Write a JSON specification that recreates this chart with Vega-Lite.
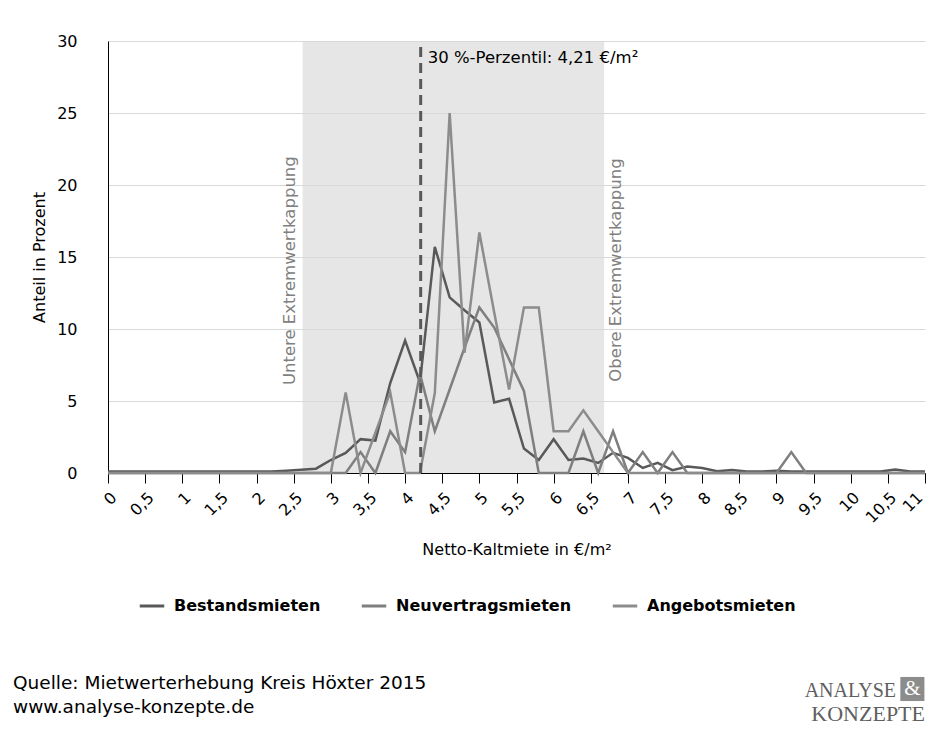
{
  "$schema": "https://vega.github.io/schema/vega-lite/v6.json",
  "autosize": {"type": "none"},
  "width": 817,
  "height": 432,
  "padding": {"left": 108, "top": 41, "right": 5, "bottom": 256},
  "background": "white",
  "config": {"font": "DejaVu Sans", "view": {"stroke": null}},
  "datasets": {
    "verteilung": [
      {"preis": 0.0, "Bestandsmieten": 0.1, "Neuvertragsmieten": 0, "Angebotsmieten": 0},
      {"preis": 0.2, "Bestandsmieten": 0.1, "Neuvertragsmieten": 0, "Angebotsmieten": 0},
      {"preis": 0.4, "Bestandsmieten": 0.1, "Neuvertragsmieten": 0, "Angebotsmieten": 0},
      {"preis": 0.6, "Bestandsmieten": 0.1, "Neuvertragsmieten": 0, "Angebotsmieten": 0},
      {"preis": 0.8, "Bestandsmieten": 0.1, "Neuvertragsmieten": 0, "Angebotsmieten": 0},
      {"preis": 1.0, "Bestandsmieten": 0.1, "Neuvertragsmieten": 0, "Angebotsmieten": 0},
      {"preis": 1.2, "Bestandsmieten": 0.1, "Neuvertragsmieten": 0, "Angebotsmieten": 0},
      {"preis": 1.4, "Bestandsmieten": 0.1, "Neuvertragsmieten": 0, "Angebotsmieten": 0},
      {"preis": 1.6, "Bestandsmieten": 0.1, "Neuvertragsmieten": 0, "Angebotsmieten": 0},
      {"preis": 1.8, "Bestandsmieten": 0.1, "Neuvertragsmieten": 0, "Angebotsmieten": 0},
      {"preis": 2.0, "Bestandsmieten": 0.1, "Neuvertragsmieten": 0, "Angebotsmieten": 0},
      {"preis": 2.2, "Bestandsmieten": 0.1, "Neuvertragsmieten": 0, "Angebotsmieten": 0},
      {"preis": 2.4, "Bestandsmieten": 0.15, "Neuvertragsmieten": 0, "Angebotsmieten": 0},
      {"preis": 2.6, "Bestandsmieten": 0.22, "Neuvertragsmieten": 0, "Angebotsmieten": 0},
      {"preis": 2.8, "Bestandsmieten": 0.3, "Neuvertragsmieten": 0, "Angebotsmieten": 0},
      {"preis": 3.0, "Bestandsmieten": 0.9, "Neuvertragsmieten": 0, "Angebotsmieten": 0},
      {"preis": 3.2, "Bestandsmieten": 1.4, "Neuvertragsmieten": 0, "Angebotsmieten": 5.6},
      {"preis": 3.4, "Bestandsmieten": 2.35, "Neuvertragsmieten": 1.45, "Angebotsmieten": 0},
      {"preis": 3.6, "Bestandsmieten": 2.25, "Neuvertragsmieten": 0, "Angebotsmieten": 2.8},
      {"preis": 3.8, "Bestandsmieten": 6.25, "Neuvertragsmieten": 2.9, "Angebotsmieten": 5.6},
      {"preis": 4.0, "Bestandsmieten": 9.2, "Neuvertragsmieten": 1.45, "Angebotsmieten": 0},
      {"preis": 4.2, "Bestandsmieten": 6.3, "Neuvertragsmieten": 6.9, "Angebotsmieten": 0},
      {"preis": 4.4, "Bestandsmieten": 15.7, "Neuvertragsmieten": 2.9, "Angebotsmieten": 5.55},
      {"preis": 4.6, "Bestandsmieten": 12.2, "Neuvertragsmieten": 5.8, "Angebotsmieten": 25.0},
      {"preis": 4.8, "Bestandsmieten": 11.3, "Neuvertragsmieten": 8.7, "Angebotsmieten": 8.35},
      {"preis": 5.0, "Bestandsmieten": 10.45, "Neuvertragsmieten": 11.5, "Angebotsmieten": 16.7},
      {"preis": 5.2, "Bestandsmieten": 4.9, "Neuvertragsmieten": 10.1, "Angebotsmieten": 11.15},
      {"preis": 5.4, "Bestandsmieten": 5.15, "Neuvertragsmieten": 7.9, "Angebotsmieten": 5.8},
      {"preis": 5.6, "Bestandsmieten": 1.7, "Neuvertragsmieten": 5.7, "Angebotsmieten": 11.5},
      {"preis": 5.8, "Bestandsmieten": 0.9, "Neuvertragsmieten": 0, "Angebotsmieten": 11.5},
      {"preis": 6.0, "Bestandsmieten": 2.35, "Neuvertragsmieten": 0, "Angebotsmieten": 2.9},
      {"preis": 6.2, "Bestandsmieten": 0.9, "Neuvertragsmieten": 0, "Angebotsmieten": 2.9},
      {"preis": 6.4, "Bestandsmieten": 1.0, "Neuvertragsmieten": 2.9, "Angebotsmieten": 4.35},
      {"preis": 6.6, "Bestandsmieten": 0.7, "Neuvertragsmieten": 0, "Angebotsmieten": 2.9},
      {"preis": 6.8, "Bestandsmieten": 1.4, "Neuvertragsmieten": 2.9, "Angebotsmieten": 1.45},
      {"preis": 7.0, "Bestandsmieten": 1.05, "Neuvertragsmieten": 0, "Angebotsmieten": 0},
      {"preis": 7.2, "Bestandsmieten": 0.35, "Neuvertragsmieten": 1.45, "Angebotsmieten": 0},
      {"preis": 7.4, "Bestandsmieten": 0.7, "Neuvertragsmieten": 0, "Angebotsmieten": 0},
      {"preis": 7.6, "Bestandsmieten": 0.2, "Neuvertragsmieten": 1.45, "Angebotsmieten": 0},
      {"preis": 7.8, "Bestandsmieten": 0.45, "Neuvertragsmieten": 0, "Angebotsmieten": 0},
      {"preis": 8.0, "Bestandsmieten": 0.35, "Neuvertragsmieten": 0, "Angebotsmieten": 0},
      {"preis": 8.2, "Bestandsmieten": 0.12, "Neuvertragsmieten": 0, "Angebotsmieten": 0},
      {"preis": 8.4, "Bestandsmieten": 0.2, "Neuvertragsmieten": 0, "Angebotsmieten": 0},
      {"preis": 8.6, "Bestandsmieten": 0.1, "Neuvertragsmieten": 0, "Angebotsmieten": 0},
      {"preis": 8.8, "Bestandsmieten": 0.1, "Neuvertragsmieten": 0, "Angebotsmieten": 0},
      {"preis": 9.0, "Bestandsmieten": 0.15, "Neuvertragsmieten": 0, "Angebotsmieten": 0},
      {"preis": 9.2, "Bestandsmieten": 0.1, "Neuvertragsmieten": 1.45, "Angebotsmieten": 0},
      {"preis": 9.4, "Bestandsmieten": 0.1, "Neuvertragsmieten": 0, "Angebotsmieten": 0},
      {"preis": 9.6, "Bestandsmieten": 0.1, "Neuvertragsmieten": 0, "Angebotsmieten": 0},
      {"preis": 9.8, "Bestandsmieten": 0.1, "Neuvertragsmieten": 0, "Angebotsmieten": 0},
      {"preis": 10.0, "Bestandsmieten": 0.1, "Neuvertragsmieten": 0, "Angebotsmieten": 0},
      {"preis": 10.2, "Bestandsmieten": 0.1, "Neuvertragsmieten": 0, "Angebotsmieten": 0},
      {"preis": 10.4, "Bestandsmieten": 0.1, "Neuvertragsmieten": 0, "Angebotsmieten": 0},
      {"preis": 10.6, "Bestandsmieten": 0.25, "Neuvertragsmieten": 0, "Angebotsmieten": 0},
      {"preis": 10.8, "Bestandsmieten": 0.1, "Neuvertragsmieten": 0, "Angebotsmieten": 0},
      {"preis": 11.0, "Bestandsmieten": 0.1, "Neuvertragsmieten": 0, "Angebotsmieten": 0}
    ],
    "kappung": [{"von": 2.62, "bis": 6.68}],
    "perzentil": [{"wert": 4.21, "label": "30 %-Perzentil: 4,21 €/m²"}]
  },
  "layer": [
    {
      "data": {"name": "kappung"},
      "mark": {"type": "rect", "color": "#d9d9d9", "opacity": 0.66},
      "encoding": {
        "x": {
          "field": "von", "type": "quantitative",
          "scale": {"domain": [0, 11], "nice": false, "zero": true},
          "title": "Netto-Kaltmiete in €/m²",
          "axis": {
            "values": [0, 0.5, 1, 1.5, 2, 2.5, 3, 3.5, 4, 4.5, 5, 5.5, 6, 6.5, 7, 7.5, 8, 8.5, 9, 9.5, 10, 10.5, 11],
            "tickCount": 60,
            "labelExpr": "replace(format(datum.value, '.1~f'), '.', ',')",
            "labelAngle": -45, "labelAlign": "right", "labelBaseline": "top",
            "labelOffset": {"condition": {"test": "datum.value >= 11", "value": -11}, "value": 0},
            "labelFontSize": 16, "labelColor": "black", "labelPadding": 6, "labelOverlap": false, "labelFlush": false,
            "grid": false, "domainColor": "black", "tickColor": "black", "tickSize": 10,
            "titleFontSize": 16, "titleFontWeight": "normal", "titleColor": "black", "titlePadding": 16
          }
        },
        "x2": {"field": "bis"},
        "y": {
          "datum": 0, "type": "quantitative",
          "scale": {"domain": [0, 30], "nice": false},
          "title": "Anteil in Prozent",
          "axis": {
            "values": [0, 5, 10, 15, 20, 25, 30],
            "tickCount": 20,
            "grid": true, "gridColor": "#d9d9d9", "ticks": false,
            "domainColor": "black", "labelFontSize": 16, "labelColor": "black", "labelPadding": 31,
            "titleFontSize": 16, "titleFontWeight": "normal", "titleColor": "black", "titlePadding": 9
          }
        },
        "y2": {"datum": 30}
      }
    },
    {
      "data": {"name": "verteilung"},
      "transform": [{"fold": ["Bestandsmieten", "Neuvertragsmieten", "Angebotsmieten"], "as": ["reihe", "anteil"]}],
      "mark": {"type": "line", "strokeWidth": 2.5},
      "encoding": {
        "x": {"field": "preis", "type": "quantitative", "title": "Netto-Kaltmiete in €/m²"},
        "y": {"field": "anteil", "type": "quantitative", "title": "Anteil in Prozent"},
        "color": {
          "field": "reihe", "type": "nominal",
          "scale": {"domain": ["Bestandsmieten", "Neuvertragsmieten", "Angebotsmieten"], "range": ["#595959", "#7f7f7f", "#8c8c8c"]},
          "legend": {
            "title": null, "orient": "none", "legendX": 30, "legendY": 551, "direction": "horizontal", "columns": 3,
            "symbolType": "stroke", "symbolStrokeWidth": 3, "symbolSize": 600,
            "labelFontSize": 16, "labelFontWeight": "bold", "labelColor": "black", "labelOffset": 8, "labelLimit": 400, "columnPadding": 34
          }
        },
        "order": {"field": "reihe", "sort": "descending"}
      }
    },
    {
      "data": {"name": "perzentil"},
      "mark": {"type": "rule", "color": "#595959", "strokeWidth": 3, "strokeDash": [10, 6]},
      "encoding": {
        "x": {"field": "wert", "type": "quantitative", "title": "Netto-Kaltmiete in €/m²"},
        "y": {"datum": 0, "type": "quantitative"},
        "y2": {"datum": 30}
      }
    },
    {
      "data": {"name": "perzentil"},
      "mark": {"type": "text", "align": "left", "baseline": "top", "dx": 7, "dy": 9, "fontSize": 16.5, "color": "black"},
      "encoding": {
        "x": {"field": "wert", "type": "quantitative", "title": "Netto-Kaltmiete in €/m²"},
        "y": {"datum": 30, "type": "quantitative"},
        "text": {"field": "label"}
      }
    },
    {
      "data": {"values": [{"pos": 2.62, "text": "Untere Extremwertkappung"}]},
      "mark": {"type": "text", "angle": 270, "align": "center", "baseline": "bottom", "dy": -5, "fontSize": 16.5, "color": "#808080"},
      "encoding": {
        "x": {"field": "pos", "type": "quantitative", "title": "Netto-Kaltmiete in €/m²"},
        "y": {"datum": 14.05, "type": "quantitative"},
        "text": {"field": "text"}
      }
    },
    {
      "data": {"values": [{"pos": 6.68, "text": "Obere Extremwertkappung"}]},
      "mark": {"type": "text", "angle": 270, "align": "center", "baseline": "top", "dy": 4, "fontSize": 16.5, "color": "#808080"},
      "encoding": {
        "x": {"field": "pos", "type": "quantitative", "title": "Netto-Kaltmiete in €/m²"},
        "y": {"datum": 14.1, "type": "quantitative"},
        "text": {"field": "text"}
      }
    },
    {
      "data": {"values": [{"text": "Quelle: Mietwerterhebung Kreis Höxter 2015"}]},
      "mark": {"type": "text", "align": "left", "baseline": "alphabetic", "dx": -95, "dy": 216, "fontSize": 18.5, "color": "black"},
      "encoding": {
        "x": {"datum": 0, "type": "quantitative"},
        "y": {"datum": 0, "type": "quantitative"},
        "text": {"field": "text"}
      }
    },
    {
      "data": {"values": [{"text": "www.analyse-konzepte.de"}]},
      "mark": {"type": "text", "align": "left", "baseline": "alphabetic", "dx": -95, "dy": 240, "fontSize": 18.5, "color": "black"},
      "encoding": {
        "x": {"datum": 0, "type": "quantitative"},
        "y": {"datum": 0, "type": "quantitative"},
        "text": {"field": "text"}
      }
    },
    {
      "data": {"values": [{"text": "ANALYSE"}]},
      "mark": {"type": "text", "align": "right", "baseline": "alphabetic", "dx": -29, "dy": 224, "fontSize": 20, "font": "Liberation Serif", "color": "#5f5f5f"},
      "encoding": {
        "x": {"datum": 11, "type": "quantitative"},
        "y": {"datum": 0, "type": "quantitative"},
        "text": {"field": "text"}
      }
    },
    {
      "data": {"values": [{"text": "&"}]},
      "mark": {"type": "point", "shape": "square", "filled": true, "size": 580, "color": "#8c8c8c", "opacity": 1},
      "encoding": {
        "x": {"datum": 10.83, "type": "quantitative"},
        "y": {"datum": -15.0, "type": "quantitative"}
      }
    },
    {
      "data": {"values": [{"text": "&"}]},
      "mark": {"type": "text", "align": "center", "baseline": "middle", "fontSize": 21, "font": "Liberation Serif", "color": "white"},
      "encoding": {
        "x": {"datum": 10.83, "type": "quantitative"},
        "y": {"datum": -15.0, "type": "quantitative"},
        "text": {"field": "text"}
      }
    },
    {
      "data": {"values": [{"text": "KONZEPTE"}]},
      "mark": {"type": "text", "align": "right", "baseline": "alphabetic", "dx": 0, "dy": 248, "fontSize": 22, "font": "Liberation Serif", "color": "#5f5f5f"},
      "encoding": {
        "x": {"datum": 11, "type": "quantitative"},
        "y": {"datum": 0, "type": "quantitative"},
        "text": {"field": "text"}
      }
    }
  ]
}
